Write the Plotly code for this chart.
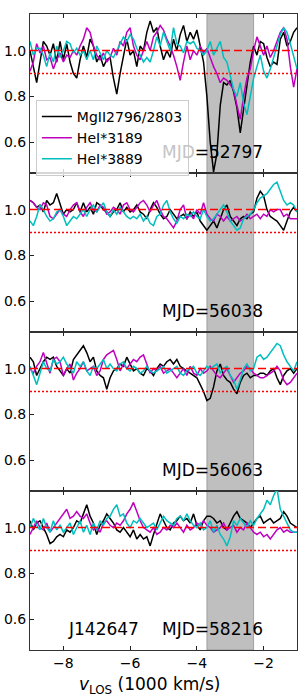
import numpy as np
import plotly.graph_objects as go
from plotly.subplots import make_subplots

# velocity grid (1000 km/s)
v = [round(-9.0 + 0.1 * i, 1) for i in range(81)]

mg_52797 = [1.00,0.93,0.86,0.95,1.04,1.02,0.98,1.03,0.95,1.04,0.96,1.03,0.95,0.90,0.88,0.96,1.02,0.97,1.05,1.02,
            0.95,0.98,0.93,0.96,0.97,0.88,0.81,0.90,0.98,1.05,0.98,1.00,0.93,1.02,1.00,1.08,1.13,1.08,1.10,1.02,
            0.96,1.00,0.97,1.05,1.00,1.07,1.11,1.04,1.08,1.05,1.09,1.02,0.95,0.80,0.60,0.47,0.55,0.76,0.86,0.85,
            0.87,0.82,0.75,0.64,0.74,0.85,0.95,1.02,0.98,1.04,1.03,0.97,0.93,0.95,0.94,1.05,1.08,1.02,1.04,1.08,1.10]
he3189_52797 = [0.91,0.95,1.03,0.99,1.02,0.96,0.97,0.92,0.96,0.99,0.95,0.98,0.97,1.00,0.98,1.02,1.05,1.10,1.08,1.02,
                0.98,0.96,0.99,0.95,0.97,1.01,0.98,1.04,1.02,1.08,1.10,1.02,0.98,0.96,1.00,1.04,1.00,1.06,1.08,1.11,
                1.09,1.05,1.02,0.98,0.93,0.87,0.95,1.02,0.96,1.00,0.98,1.02,0.99,1.01,0.97,0.93,0.90,0.86,0.88,0.87,
                0.85,0.83,0.76,0.70,0.80,0.88,0.92,1.00,1.06,1.02,0.98,1.02,0.97,1.00,1.04,1.08,1.10,1.05,0.93,0.84,0.92]
he3889_52797 = [1.04,0.98,1.01,1.01,0.98,0.93,0.99,0.95,1.02,0.97,1.00,1.04,1.03,0.99,1.01,0.98,1.00,0.96,1.00,0.96,
                1.02,0.99,0.96,1.00,0.98,0.97,1.00,1.03,1.06,1.04,1.07,1.05,1.01,0.98,0.95,0.97,0.95,1.00,1.06,1.02,
                1.08,1.04,1.00,1.10,1.03,1.02,0.99,1.04,1.03,1.04,1.01,1.00,0.98,1.00,1.04,0.98,1.01,1.04,0.97,0.95,
                0.89,0.83,0.80,0.86,0.77,0.72,0.80,0.88,0.93,0.98,0.91,0.88,0.92,0.97,1.03,1.07,1.10,1.08,1.03,0.98,0.92]

mg_56038 = [1.04,1.03,1.01,1.02,0.99,1.04,1.02,1.03,1.07,1.02,0.98,1.00,0.99,1.00,1.03,0.99,1.03,0.99,1.01,0.98,
            1.03,1.02,1.00,0.99,0.97,0.99,1.00,1.03,0.99,1.01,0.99,1.00,1.02,0.99,0.98,0.96,1.00,1.03,1.01,0.98,
            0.96,0.97,1.00,0.98,0.96,0.97,0.98,0.96,0.99,0.97,0.99,0.95,0.93,0.91,0.93,0.95,0.92,0.96,1.00,1.02,
            0.97,0.95,0.93,0.96,0.97,0.96,0.98,0.99,1.05,1.08,1.06,1.00,0.97,0.96,0.95,0.93,0.91,0.95,0.99,1.01,0.99]
he3189_56038 = [1.04,1.03,1.01,1.00,1.03,1.02,0.97,0.96,0.98,1.00,0.98,0.97,1.00,1.02,1.03,0.99,0.97,1.01,1.03,1.00,
                0.99,1.02,1.01,0.98,0.99,1.01,1.00,0.98,1.02,1.03,1.00,0.99,1.01,1.03,1.04,1.02,0.99,1.02,1.04,1.00,
                0.97,0.96,0.94,0.92,0.95,1.00,1.02,0.96,0.98,0.96,1.00,0.98,1.03,0.98,0.96,0.95,0.98,0.97,0.95,0.97,
                0.95,0.96,0.97,0.95,0.96,0.98,0.96,0.97,0.98,0.96,0.98,0.97,1.00,0.99,1.00,1.00,0.97,0.98,0.96,0.96,0.96]
he3889_56038 = [0.95,0.93,0.97,1.02,1.00,0.97,0.95,0.96,0.99,1.00,0.97,0.93,0.95,0.97,0.96,0.98,1.00,0.97,1.00,1.02,
                0.99,1.01,1.03,0.99,0.97,1.00,0.98,1.01,0.99,0.97,0.96,0.97,0.96,0.98,0.95,0.97,0.94,0.93,0.97,0.98,
                1.02,1.04,0.99,0.96,0.94,0.97,0.96,0.98,0.97,0.99,0.97,0.96,1.00,0.97,0.95,0.96,0.98,1.00,1.02,0.99,
                0.95,0.93,0.91,0.92,0.96,0.97,0.98,1.00,1.03,1.05,1.06,1.07,1.09,1.11,1.12,1.08,1.04,1.02,1.03,1.02,0.99]

mg_56063 = [1.05,1.03,0.97,1.00,1.03,1.05,1.04,1.05,1.01,0.99,0.97,1.00,0.98,1.04,1.06,1.08,1.10,1.07,1.03,1.05,
            0.99,0.97,0.96,0.91,0.96,0.99,1.00,1.02,1.01,1.05,1.02,0.99,1.00,0.98,0.97,1.00,0.99,0.97,1.00,1.02,
            1.01,1.03,1.04,1.02,1.04,1.01,1.00,0.99,0.98,0.97,0.96,0.93,0.90,0.86,0.87,0.92,0.99,1.02,0.97,0.95,
            0.94,0.91,0.89,0.94,0.97,0.98,0.96,0.97,0.97,0.98,0.98,0.97,0.99,1.00,0.96,0.93,0.97,0.99,1.00,0.98,1.00]
he3189_56063 = [1.00,0.98,1.01,1.03,1.07,1.02,0.98,1.04,1.05,1.03,0.97,1.00,1.02,0.95,0.98,1.00,1.03,0.99,1.00,1.01,
                0.97,0.99,1.04,1.06,1.07,1.08,1.04,0.99,1.02,1.00,1.02,1.04,1.03,1.05,1.06,1.02,0.98,1.00,0.99,1.01,
                0.98,0.99,1.00,0.98,0.96,0.98,1.00,0.97,1.01,0.98,0.97,1.00,0.98,0.99,1.01,0.99,0.97,0.96,0.98,1.00,
                0.97,0.94,0.96,0.98,0.99,1.01,1.00,0.98,0.97,0.96,0.96,0.97,0.98,0.99,1.01,0.99,0.95,0.93,0.94,0.96,0.98]
he3889_56063 = [1.01,0.97,0.93,0.98,1.03,1.00,0.99,1.04,1.02,1.03,1.05,1.02,1.00,0.98,1.03,1.01,1.03,0.99,0.97,1.01,
                1.00,1.02,1.04,1.00,1.02,1.00,0.99,1.02,1.03,1.00,0.99,1.01,1.00,0.98,0.99,1.01,0.99,0.98,0.99,1.00,
                1.01,0.98,0.99,1.00,1.01,0.98,0.97,0.99,1.00,1.01,0.98,0.97,0.99,1.01,1.00,1.01,1.02,0.98,1.00,1.01,
                0.97,0.95,0.91,0.95,1.00,1.02,0.99,1.00,1.05,1.06,1.04,1.05,1.07,1.09,1.11,1.10,1.06,1.03,1.01,0.99,1.03]

mg_58216 = [1.03,0.99,1.02,1.03,1.00,0.97,0.93,0.94,0.96,0.97,0.96,0.99,0.98,1.00,1.03,1.02,1.06,1.10,1.05,1.02,
            0.97,1.01,1.03,1.06,1.04,1.02,0.99,0.98,1.00,0.98,0.96,0.99,0.95,0.97,0.95,0.96,0.92,0.97,1.02,1.06,
            1.03,1.00,0.99,1.02,1.03,1.05,1.03,1.04,1.02,1.06,1.01,0.99,1.03,1.05,1.05,1.04,1.02,1.03,1.00,0.99,
            1.02,1.05,1.07,1.04,1.03,1.02,1.00,1.02,1.04,1.05,1.02,1.03,1.04,1.02,1.03,1.04,1.07,1.05,1.02,1.01,1.00]
he3189_58216 = [0.97,1.00,1.03,1.00,0.99,1.02,0.98,1.00,1.02,1.04,1.06,1.08,1.04,1.05,1.07,1.05,1.04,1.06,1.02,0.99,
                1.00,0.98,1.02,1.03,1.01,1.00,1.02,1.01,1.03,1.06,1.08,1.11,1.07,1.03,1.00,0.99,0.98,1.00,0.97,0.98,
                1.00,0.99,1.01,1.00,1.02,1.00,0.98,1.01,0.99,1.00,1.02,1.01,1.03,1.01,1.00,0.98,0.99,1.00,1.02,0.99,
                1.00,1.01,0.98,1.00,0.99,1.02,1.00,0.98,0.97,0.98,0.96,0.97,0.95,0.97,0.99,1.00,0.98,0.99,0.98,0.98,0.98]
he3889_58216 = [1.00,1.04,1.01,0.99,1.04,1.00,0.98,1.03,0.99,1.01,0.98,1.00,1.02,0.97,1.00,1.03,0.98,1.01,0.97,1.02,
                0.99,1.03,1.01,1.04,1.05,1.08,1.10,1.05,1.06,1.02,1.00,1.03,1.02,1.04,1.02,1.00,1.01,1.02,0.99,1.02,
                1.05,1.03,1.02,1.01,1.04,1.05,1.03,1.06,1.03,1.01,1.00,1.02,0.99,1.00,1.03,0.98,1.01,0.97,0.95,0.92,
                0.96,1.03,1.01,1.04,1.02,1.00,1.03,1.01,1.04,1.06,1.08,1.12,1.10,1.14,1.17,1.08,1.05,1.02,0.99,0.98,0.98]

mjd_labels = ["MJD=52797", "MJD=56038", "MJD=56063", "MJD=58216"]
series_names = ["MgII2796/2803", "HeI*3189", "HeI*3889"]
series_colors = ["#000000", "#bf00bf", "#00bfbf"]
panels = [
    [mg_52797, he3189_52797, he3889_52797],
    [mg_56038, he3189_56038, he3889_56038],
    [mg_56063, he3189_56063, he3889_56063],
    [mg_58216, he3189_58216, he3889_58216],
]
shade_range = [-3.7, -2.3]
continuum = 1.0
threshold = 0.9
object_name = "J142647"

fig = make_subplots(rows=4, cols=1, shared_xaxes=True, vertical_spacing=0)

for r, panel in enumerate(panels, start=1):
    for name, color, ys in zip(series_names, series_colors, panel):
        fig.add_trace(go.Scatter(x=v, y=ys, mode="lines", name=name,
                                 line=dict(color=color, width=1.5),
                                 showlegend=(r == 1)), row=r, col=1)
    fig.add_hline(y=continuum, line=dict(color="red", width=1.5, dash="8px,4px"), row=r, col=1)
    fig.add_hline(y=threshold, line=dict(color="red", width=1.5, dash="2px,2px"), row=r, col=1)

fig.add_shape(type="rect", xref="x", yref="paper", x0=shade_range[0], x1=shade_range[1],
              y0=0, y1=1, fillcolor="rgba(128,128,128,0.5)",
              line=dict(color="rgba(110,110,110,0.5)", width=1), layer="below")

font = dict(family="DejaVu Sans", size=14, color="black")
for r in range(1, 5):
    fig.update_xaxes(range=[-9, -1], tickvals=[-8, -6, -4, -2], ticktext=["\u22128", "\u22126", "\u22124", "\u22122"],
                     ticks="inside", ticklen=4,
                     tickwidth=1, tickcolor="#222", showline=True, linecolor="#333", linewidth=1,
                     mirror="ticks", showgrid=False, zeroline=False, tickfont=font,
                     showticklabels=(r == 4), row=r, col=1)
    fig.update_yaxes(range=[0.465, 1.16], tickvals=[0.6, 0.8, 1.0], ticktext=["0.6", "0.8", "1.0"],
                     ticks="inside", ticklen=4, tickwidth=1, tickcolor="#222", showline=True,
                     linecolor="#333", linewidth=1, mirror=True, showgrid=False, zeroline=False,
                     tickfont=font, row=r, col=1)

afont = dict(family="DejaVu Sans", size=17, color="black")
for r, lab in enumerate(mjd_labels, start=1):
    xr = "x domain" if r == 1 else f"x{r} domain"
    yr = "y domain" if r == 1 else f"y{r} domain"
    text = lab
    if r == 1:
        # part of this label sits behind the semi-transparent legend box
        text = '<span style="color:#c4c4c4">MJD</span>' + lab[3:]
    fig.add_annotation(text=text, x=0.684, y=0.134, xref=xr, yref=yr, showarrow=False,
                       xanchor="center", yanchor="middle", font=afont)
fig.add_annotation(text=object_name, x=0.276, y=0.134, xref="x4 domain", yref="y4 domain",
                   showarrow=False, xanchor="center", yanchor="middle", font=afont)
fig.add_annotation(text="<i>v</i><sub>LOS</sub> (1000 km/s)", x=(150 - 30) / 267, y=-35 / 636,
                   xref="paper", yref="paper", showarrow=False, xanchor="center",
                   yanchor="middle", font=afont)

fig.update_layout(
    width=300, height=700, margin=dict(l=30, r=3, t=14, b=50),
    plot_bgcolor="white", paper_bgcolor="white",
    legend=dict(x=0.022, y=0.865, xanchor="left", yanchor="top",
                bgcolor="rgba(255,255,255,0.8)", bordercolor="#cccccc", borderwidth=1,
                font=dict(family="DejaVu Sans", size=14, color="black"), itemwidth=30,
                tracegroupgap=0),
    font=font,
)

fig.write_html("out.html", config={"displayModeBar": False},
               post_script="document.body.style.margin='0';document.body.style.overflow='hidden';")
